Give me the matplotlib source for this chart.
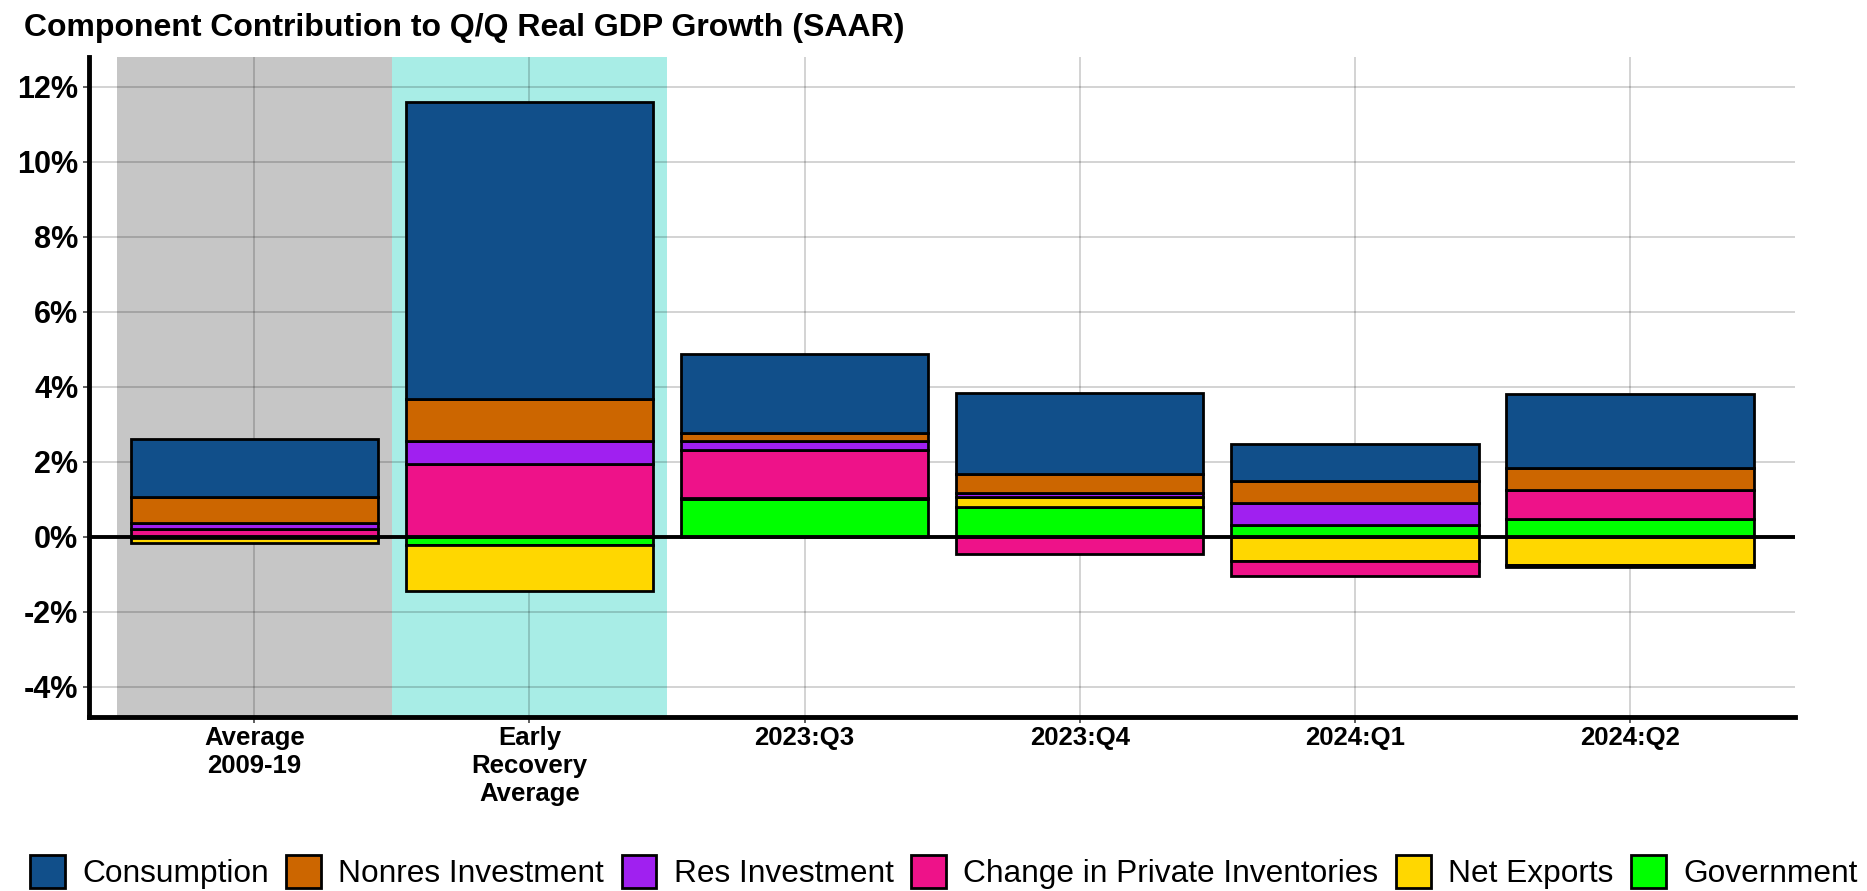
import numpy as np
import matplotlib
matplotlib.use("Agg")
import matplotlib.pyplot as plt

plt.rcParams["font.family"] = ["Liberation Sans", "DejaVu Sans"]

periods = ["Average\n2009-19", "Early\nRecovery\nAverage", "2023:Q3", "2023:Q4", "2024:Q1", "2024:Q2"]

# contributions in percentage points, stacked from the zero line outward in this order
government = [-0.03, -0.22, 1.00, 0.80, 0.31, 0.46]
net_exports = [-0.13, -1.22, 0.03, 0.27, -0.65, -0.76]
inventories = [0.21, 1.95, 1.27, -0.45, -0.39, 0.78]
res_inv = [0.15, 0.59, 0.25, 0.09, 0.60, -0.06]
nonres_inv = [0.69, 1.12, 0.22, 0.50, 0.58, 0.60]
consumption = [1.55, 7.92, 2.10, 2.18, 0.98, 1.96]

series = [
    ("Government", government, "#00FF00"),
    ("Net Exports", net_exports, "#FFD700"),
    ("Change in Private Inventories", inventories, "#EE1289"),
    ("Res Investment", res_inv, "#A020F0"),
    ("Nonres Investment", nonres_inv, "#CC6600"),
    ("Consumption", consumption, "#114F8A"),
]

fig = plt.figure(figsize=(18.67, 8.91), dpi=100)
ax = fig.add_axes([0.0478, 0.1956, 0.9136, 0.7408])

x = np.arange(len(periods))
ax.axvspan(-0.5, 0.5, color="#C6C6C6", zorder=0, lw=0)
ax.axvspan(0.5, 1.5, color="#A8EDE6", zorder=0, lw=0)

pos = np.zeros(len(periods))
neg = np.zeros(len(periods))
handles = {}
for name, vals, col in series:
    vals = np.array(vals)
    bottom = np.where(vals >= 0, pos, neg)
    b = ax.bar(x, vals, width=0.9, bottom=bottom, color=col, edgecolor="black",
               linewidth=2, zorder=2, label=name)
    handles[name] = b
    pos = pos + np.clip(vals, 0, None)
    neg = neg + np.clip(vals, None, 0)

ax.axhline(0, color="black", lw=2.8, zorder=3)

ax.set_xlim(-0.6, 5.6)
ax.set_ylim(-4.8, 12.8)
ax.set_yticks(np.arange(-4, 13, 2))
ax.set_yticklabels([f"{v}%" for v in range(-4, 13, 2)])
ax.set_xticks(x)
ax.set_xticklabels(periods, multialignment="center")

ax.grid(True, color="black", alpha=0.2, lw=1.2)
for gl in ax.get_xgridlines() + ax.get_ygridlines():
    gl.set_zorder(1)

for s in ["top", "right"]:
    ax.spines[s].set_visible(False)
for s in ["left", "bottom"]:
    ax.spines[s].set_linewidth(3.5)
    ax.spines[s].set_zorder(4)

ax.tick_params(axis="y", labelsize=22, length=4, width=1.2, color="#444444", pad=4)
ax.tick_params(axis="x", labelsize=18.5, length=4, width=1.2, color="#444444", pad=3)
for lbl in ax.get_yticklabels() + ax.get_xticklabels():
    lbl.set_fontweight("bold")

fig.text(0.013, 1 - 36 / 891, "Component Contribution to Q/Q Real GDP Growth (SAAR)",
         fontsize=23, fontweight="bold", va="baseline", ha="left")

order = ["Consumption", "Nonres Investment", "Res Investment",
         "Change in Private Inventories", "Net Exports", "Government"]
fig.legend([handles[n] for n in order], order, loc="upper center",
           bbox_to_anchor=(0.5055, 1 - 855 / 891), ncol=6, frameon=False,
           fontsize=22.8, handlelength=1.1, handleheight=1.25,
           handletextpad=0.55, columnspacing=0.55, borderaxespad=0, borderpad=0)

fig.savefig("out.png", dpi=100)
